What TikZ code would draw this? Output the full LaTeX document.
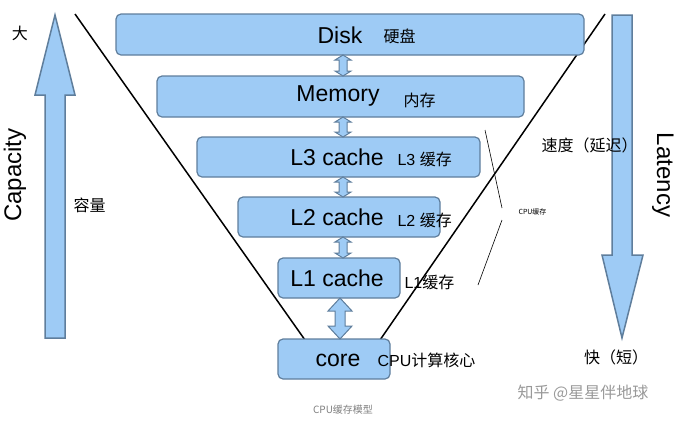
\documentclass[tikz,border=0pt]{standalone}
\usepackage{fontspec}
\setmainfont{Liberation Sans}
\newfontfamily\cjk{Noto Sans CJK SC}
\definecolor{boxfill}{HTML}{9ECBF5}
\definecolor{boxline}{HTML}{5F7E9C}
\begin{document}
\begin{tikzpicture}[x=1pt,y=-1pt]
    \tikzset{level/.style={draw=boxline,fill=boxfill,line width=1.2pt,rounded corners=5pt},
             link/.style={draw=boxline,fill=boxfill,line width=1pt},
             big/.style={draw=boxline,fill=boxfill,line width=1.5pt},
             lbl/.style={font=\fontsize{23}{23}\selectfont},
             note/.style={font=\cjk\fontsize{16}{16}\selectfont,anchor=west}}
    \useasboundingbox (0,0) rectangle (683,421);
    % funnel
    \draw[line width=1.5pt] (75,14) -- (305,340);
    \draw[line width=1.5pt] (605,14) -- (380,340);
    % levels
    \draw[level] (116,14) rectangle (584,55);
    \draw[level] (157,76) rectangle (524,117);
    \draw[level] (197,137) rectangle (480,177);
    \draw[level] (238,197) rectangle (440,237);
    \draw[level] (278,258) rectangle (400,298);
    \draw[level] (278,339) rectangle (390,379);
    % small links
    \foreach \ya/\yb in {55/76,117/137,177/197,237/258}
        \draw[link] (343,\ya) -- (351,\ya+5) -- (347,\ya+5) -- (347,\yb-5) -- (351,\yb-5) -- (343,\yb)
                    -- (335,\yb-5) -- (339,\yb-5) -- (339,\ya+5) -- (335,\ya+5) -- cycle;
    \draw[link] (340,298) -- (352,311) -- (345,311) -- (345,326) -- (352,326) -- (340,339)
                -- (328,326) -- (335,326) -- (335,311) -- (328,311) -- cycle;
    % big arrows
    \draw[big] (55,15) -- (75,95) -- (65,95) -- (65,338) -- (45,338) -- (45,95) -- (35,95) -- cycle;
    \draw[big] (622,338) -- (643,255) -- (632,255) -- (632,15) -- (612,15) -- (612,255) -- (602,255) -- cycle;
    % texts
    \node[lbl] (disk) at (340,35) {Disk};
    \node[note] at (380,36) {硬盘};
    \node[lbl] (mem) at (338,96) {Memory};
    \node[note] at (400,100) {内存};
    \node[lbl] (l3) at (337,157) {L3 cache};
    \node[note] at (394,159) {\rmfamily L3 \cjk{}缓存};
    \node[lbl] (l2) at (337,217) {L2 cache};
    \node[note] at (394,220) {\rmfamily L2 \cjk{}缓存};
    \node[lbl] (l1) at (337,278) {L1 cache};
    \node[note] at (401,282) {\rmfamily L1\cjk{}缓存};
    \node[lbl] (core) at (338,360) {core};
    \node[note] at (374,360) {\rmfamily CPU\cjk{}计算核心};
    \node[font=\cjk\fontsize{16}{16}\selectfont] at (20,33) {大};
    \node[font=\fontsize{24}{24}\selectfont,rotate=90] at (15,175) {Capacity};
    \node[note] at (70,205) {容量};
    \node[note] at (538,145) {速度（延迟）};
    \node[font=\fontsize{24}{24}\selectfont,rotate=-90] at (663,175) {Latency};
    \node[font=\cjk\fontsize{16}{16}\selectfont] at (616,357) {快（短）};
    % bracket
    \draw[line width=0.6pt] (485,130) -- (502,208);
    \draw[line width=0.6pt] (502,220) -- (478,285);
    \node[font=\cjk\fontsize{7}{7}\selectfont,anchor=west] at (515,212) {CPU缓存};
    \node[font=\cjk\fontsize{16}{16}\selectfont,text=gray!80] at (583,393) {知乎 @星星伴地球};
    \node[font=\cjk\fontsize{10}{10}\selectfont,text=gray] at (343,410) {CPU缓存模型};
\end{tikzpicture}
\end{document}
